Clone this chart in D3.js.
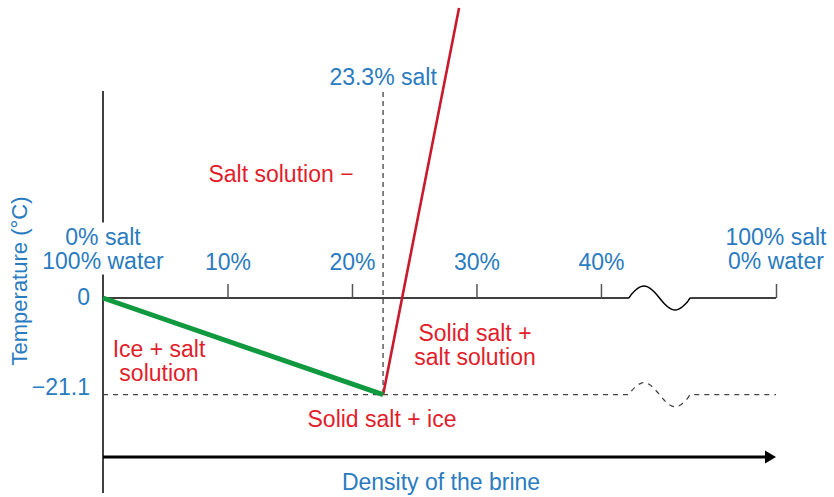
<!DOCTYPE html>
<html>
<head>
<meta charset="utf-8">
<script src="https://cdn.jsdelivr.net/npm/d3@7"></script>
<style>
  body { margin: 0; background: #fff; }
  text { font-family: "Liberation Sans", Arial, sans-serif; }
</style>
</head>
<body>
<div id="chart"></div>
<script>
// Data
const saltTicks = [10, 20, 30, 40];
const saltTickLabels = ["10%", "20%", "30%", "40%"];
const endLabels = [["0% salt", "100% water"], ["100% salt", "0% water"]];
const endValues = [0, 100];
const tempValues = [0, -21.1];
const tempLabels = ["0", "\u221221.1"];
const iceLine = [[0, 0], [22.5, -21.1]];       // freezing line (green)
const saltLine = [[22.5, -21.1], [28.6, 63.3]]; // solubility line (red)
const eutecticSalt = 22.5;
const eutecticLabel = "23.3% salt";
const axisBreak = [42.2, 47.2];

const blue = "#2a7bbf", red = "#e21d2b";

const svg = d3.select("#chart").append("svg")
  .attr("width", 834)
  .attr("height", 497);

// piecewise scale, the stretch past the break is squeezed
const x = d3.scaleLinear().domain([0, axisBreak[1], 100]).range([103, 690.6, 776]);
const y = d3.scaleLinear().domain([0, -21.1]).range([298, 394.7]);

// y axis line
svg.append("line")
  .attr("x1", x(0)).attr("x2", x(0))
  .attr("y1", 91).attr("y2", 493)
  .attr("stroke", "#000").attr("stroke-width", 1.5);

// squiggle for the break
function breakPath(t0) {
  const a = x(axisBreak[0]), b = x(axisBreak[1]);
  const pts = [[x(0), y(t0)], [a, y(t0)]];
  d3.range(0, 1.001, 0.05).forEach(function(f) {
    pts.push([a + (b - a) * f, y(t0) - 12 * Math.sin(2 * Math.PI * f)]);
  });
  pts.push([b, y(t0)], [x(100), y(t0)]);
  return d3.line().curve(d3.curveMonotoneX)(pts);
}

// eutectic dashed line
svg.append("path")
  .attr("d", breakPath(-21.1))
  .attr("fill", "none").attr("stroke", "#444")
  .attr("stroke-width", 1.3).attr("stroke-dasharray", "5,5");

svg.append("line")
  .attr("x1", x(eutecticSalt)).attr("x2", x(eutecticSalt))
  .attr("y1", 92).attr("y2", y(-21.1))
  .attr("stroke", "#777").attr("stroke-width", 1.8)
  .attr("stroke-dasharray", "5,4");

// 0 degree axis
svg.append("path")
  .attr("d", breakPath(0))
  .attr("fill", "none").attr("stroke", "#000").attr("stroke-width", 1.5);

const ax = svg.append("g")
  .attr("transform", "translate(0," + y(0) + ")")
  .call(d3.axisTop(x).tickValues(saltTicks.concat([100])).tickSize(14).tickPadding(14)
    .tickFormat(function(d, i) { return saltTickLabels[i] || ""; }));
ax.select(".domain").remove();
ax.selectAll("line").attr("stroke", "#555").attr("stroke-width", 1.5);
ax.selectAll("text")
  .attr("fill", blue).attr("font-size", 23)
  .attr("font-family", "Liberation Sans, Arial, sans-serif");

// end labels with white behind them
endValues.forEach(function(v, i) {
  const g = svg.append("g");
  const t = g.append("text")
    .attr("x", x(v)).attr("y", 244.5)
    .attr("text-anchor", "middle")
    .attr("font-size", 23).attr("fill", blue);
  endLabels[i].forEach(function(s, j) {
    t.append("tspan").attr("x", x(v)).attr("dy", j ? 24 : 0).text(s);
  });
  const bb = t.node().getBBox();
  g.insert("rect", "text")
    .attr("x", bb.x - 2).attr("y", bb.y - 1)
    .attr("width", bb.width + 4).attr("height", bb.height + 2)
    .attr("fill", "#fff");
});

// temperature labels
tempValues.forEach(function(v, i) {
  svg.append("text")
    .attr("x", 90).attr("y", y(v))
    .attr("dy", i === 0 ? "0.32em" : 0)
    .attr("text-anchor", "end")
    .attr("font-size", 23).attr("fill", blue)
    .text(tempLabels[i]);
});

// lines
const line = d3.line().x(d => x(d[0])).y(d => y(d[1]));
svg.append("path").attr("d", line(saltLine))
  .attr("fill", "none").attr("stroke", "#c8192d").attr("stroke-width", 2.6);
svg.append("path").attr("d", line(iceLine))
  .attr("fill", "none").attr("stroke", "#11993f").attr("stroke-width", 5);

// bottom arrow
svg.append("line")
  .attr("x1", x(0)).attr("x2", 766)
  .attr("y1", 457).attr("y2", 457)
  .attr("stroke", "#000").attr("stroke-width", 3);
svg.append("path")
  .attr("d", d3.line()([[765, 450.5], [776, 457], [765, 463.5]]) + "Z")
  .attr("fill", "#000");

// texts
function label(lines, cx, by, color, size) {
  const t = svg.append("text")
    .attr("text-anchor", "middle").attr("font-size", size || 23)
    .attr("fill", color).attr("y", by);
  lines.forEach(function(s, j) {
    t.append("tspan").attr("x", cx).attr("dy", j ? 23.5 : 0).text(s);
  });
}
label([eutecticLabel], x(eutecticSalt), 85, blue);
label(["Salt solution \u2212"], 281, 182, red);
label(["Ice + salt", "solution"], 159, 357, red);
label(["Solid salt +", "salt solution"], 475, 341, red);
label(["Solid salt + ice"], 382, 427, red);
label(["Density of the brine"], 441, 490, blue);

svg.append("text")
  .attr("transform", "translate(27,281) rotate(-90)")
  .attr("text-anchor", "middle")
  .attr("font-size", 22).attr("fill", blue)
  .text("Temperature (\u00B0C)");
</script>
</body>
</html>
